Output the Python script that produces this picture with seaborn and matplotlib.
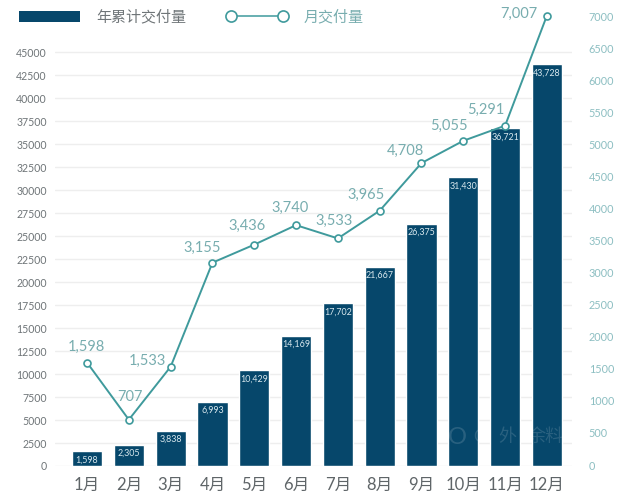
import matplotlib
matplotlib.use("Agg")
import matplotlib.pyplot as plt
from matplotlib.lines import Line2D
from matplotlib.patches import Patch
import seaborn as sns

months = ["1月", "2月", "3月", "4月", "5月", "6月", "7月", "8月", "9月", "10月", "11月", "12月"]
total_delivered = [1598, 2305, 3838, 6993, 10429, 14169, 17702, 21667, 26375, 31430, 36721, 43728]
monthly_delivered = [1598, 707, 1533, 3155, 3436, 3740, 3533, 3965, 4708, 5055, 5291, 7007]

left_ticks = list(range(0, 45001, 2500))
right_ticks = list(range(0, 7001, 500))

# label offsets from the line points, in pixels (right, up)
label_offsets = [(-1, 16), (1, 23), (-23, 6), (-10, 15), (-7, 19), (-6, 17), (-4, 18), (-14, 16),
                 (-16, 12), (-14, 15), (-19, 16), (-28, 2)]

BAR_COLOR = "#06476b"
LINE_COLOR = "#3f9a9c"
LABEL_COLOR = "#78adaf"

sns.set_theme(style="white")
plt.rcParams["font.family"] = ["Lato", "Noto Sans CJK SC", "DejaVu Sans"]

fig = plt.figure(figsize=(6.4, 5.04), dpi=100)
W, H = 640, 504
left, right, top, bottom = 55, 572, 8, 466
ax = fig.add_axes([left / W, 1 - bottom / H, (right - left) / W, (bottom - top) / H])

sns.barplot(x=months, y=total_delivered, color=BAR_COLOR, saturation=1, width=0.72, ax=ax, zorder=2)
ax.set_xlim(-0.766, 11.6)
ax.set_ylim(0, (bottom - top) / (413.7 / 45000))
ax.set_yticks(left_ticks)
ax.set_yticklabels([str(t) for t in left_ticks])
ax.tick_params(axis="y", length=0, pad=6, labelsize=7.6, labelcolor="#6f7578")
ax.tick_params(axis="x", length=0, pad=8, labelsize=12, labelcolor="#5f6568")
ax.grid(axis="y", color="#eeeeee", linewidth=1)
ax.set_axisbelow(True)
ax.bar_label(ax.containers[0], labels=[f"{v:,}" for v in total_delivered], padding=-9.5,
             fontsize=6.4, color="#d8e8ee")

ax2 = ax.twinx()
sns.lineplot(x=months, y=monthly_delivered, color=LINE_COLOR, linewidth=1.4, marker="o", markersize=5,
             markerfacecolor="white", markeredgecolor=LINE_COLOR, markeredgewidth=1.2,
             sort=False, errorbar=None, ax=ax2, clip_on=False)
ax2.set_ylim(-15, (bottom - top) / (449 / 7000) - 15)
ax2.set_yticks(right_ticks)
ax2.set_yticklabels([str(t) for t in right_ticks])
ax2.tick_params(axis="y", length=0, pad=12, labelsize=7.8, labelcolor="#8dbfc2")
ax2.set_ylabel("")
for i, v in enumerate(monthly_delivered):
    dx, dy = label_offsets[i]
    ax2.annotate(f"{v:,}", (i, v), xytext=(dx * 0.72, dy * 0.72), textcoords="offset points",
                 ha="center", va="center", fontsize=10.5, color=LABEL_COLOR)

for a in (ax, ax2):
    sns.despine(ax=a, left=True, right=True, top=True, bottom=True)

handles = [
    Patch(facecolor=BAR_COLOR, edgecolor="none"),
    Line2D([0], [0], color=LINE_COLOR, linewidth=1.1, marker="o", markersize=8,
           markerfacecolor="white", markeredgecolor=LINE_COLOR, markeredgewidth=1.2),
]
fig.legend(handles, ["年累计交付量", "月交付量"], loc="upper left", bbox_to_anchor=(19 / W, 1 - 10 / H),
           ncols=2, frameon=False, fontsize=10.8, handlelength=4.07, handleheight=0.85, numpoints=2,
           handletextpad=1.07, columnspacing=2.7, borderpad=0, borderaxespad=0,
           labelcolor=["#6f7578", LABEL_COLOR])

# faint watermark across the last bars
for x, txt, size in [(457, "O", 17), (480, "O", 12), (507, "外", 13), (546, "余料", 13)]:
    fig.text(x / W, 1 - 437 / H, txt, fontsize=size, color="white", alpha=0.14, ha="center", va="center")

fig.savefig("out.png", dpi=100)
